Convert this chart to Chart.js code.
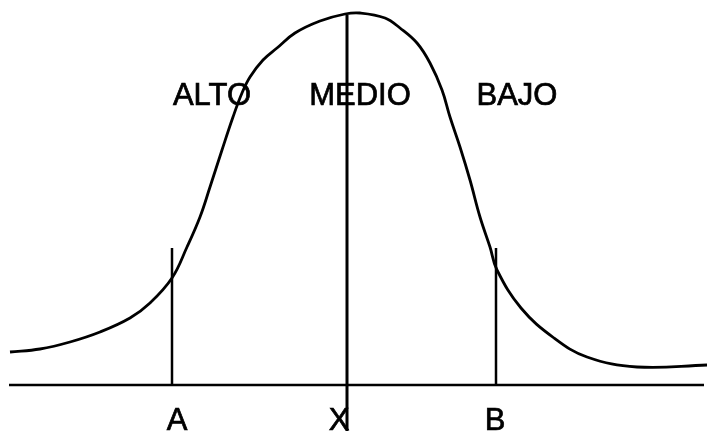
<!DOCTYPE html>
<html>
<head>
   <meta charset="utf-8">
   <script src="https://cdn.jsdelivr.net/npm/chart.js@4/dist/chart.umd.min.js"></script>
   <title>Curva normal</title>
   <style>
      body { margin: 0; background: #fff; }
      #wrap { width: 708px; height: 431px; }
   </style>
</head>
<body>
<div id="wrap"><canvas id="curve"></canvas></div>
<script>
   // curve (x along the axis, y = height above the base line)
   const curveX = [10, 40, 70, 100, 130, 150, 172, 187, 200, 210, 222, 233, 242, 250, 263, 277, 295, 320, 345, 360,
                   385, 400, 417, 430, 442, 450, 460, 470, 480, 490, 497, 521, 554, 587, 637, 707];
   const curveY = [33, 36, 43, 53, 67, 82, 107, 138, 168, 198, 235, 268, 292, 308, 325, 337, 352, 364, 371, 372,
                   367, 357, 342, 322, 295, 268, 238, 205, 168, 138, 115, 77, 47, 28, 18, 20];

   // markers on the axis: A, X (mean), B
   const markNames = ['A', 'X', 'B'];
   const markX = [172, 347, 496];
   const markTop = [137, 370, 137];
   const markBottom = [0, -46, 0];
   const markLabelX = [177, 339, 495];

   // zones over the curve
   const zoneNames = ['ALTO', 'MEDIO', 'BAJO'];
   const zoneX = [212, 360, 517];
   const zoneY = 280;
   const markLabelY = -45;

   const axisStart = 9, axisEnd = 704;

   const curvePts = curveX.map((x, i) => ({ x: x, y: curveY[i] }));

   const datasets = [
      {
         data: curvePts,
         borderColor: '#000',
         borderWidth: 2.8,
         tension: 0.4,
         pointRadius: 0
      },
      {
         data: [{ x: axisStart, y: 0 }, { x: axisEnd, y: 0 }],
         borderColor: '#000',
         borderWidth: 2.5,
         pointRadius: 0
      }
   ];
   for (let i = 0; i < markX.length; i++) {
      datasets.push({
         data: [{ x: markX[i], y: markBottom[i] }, { x: markX[i], y: markTop[i] }],
         borderColor: '#000',
         borderWidth: i == 1 ? 3 : 2.5,
         pointRadius: 0
      });
   }

   // writes the zone names and the marker letters
   const textPlugin = {
      id: 'texts',
      afterDatasetsDraw(chart) {
         const ctx = chart.ctx;
         const sx = chart.scales.x, sy = chart.scales.y;
         ctx.save();
         ctx.fillStyle = '#000';
         ctx.strokeStyle = '#000';
         ctx.lineWidth = 0.7;
         ctx.font = '31px "Liberation Sans", Arial, sans-serif';
         ctx.textAlign = 'center';
         ctx.textBaseline = 'alphabetic';
         const put = (t, x, y) => {
            const px = sx.getPixelForValue(x), py = sy.getPixelForValue(y);
            ctx.fillText(t, px, py);
            ctx.strokeText(t, px, py);
         };
         zoneNames.forEach((t, i) => put(t, zoneX[i], zoneY));
         markNames.forEach((t, i) => put(t, markLabelX[i], markLabelY));
         ctx.restore();
      }
   };

   new Chart(document.getElementById('curve'), {
      type: 'scatter',
      data: { datasets: datasets },
      options: {
         animation: false,
         responsive: true,
         maintainAspectRatio: false,
         showLine: true,
         layout: { padding: 0 },
         plugins: { legend: { display: false }, tooltip: { enabled: false } },
         scales: {
            x: { type: 'linear', min: 0, max: 708, display: false },
            y: { type: 'linear', min: -46, max: 385, display: false }
         }
      },
      plugins: [textPlugin]
   });
</script>
</body>
</html>
